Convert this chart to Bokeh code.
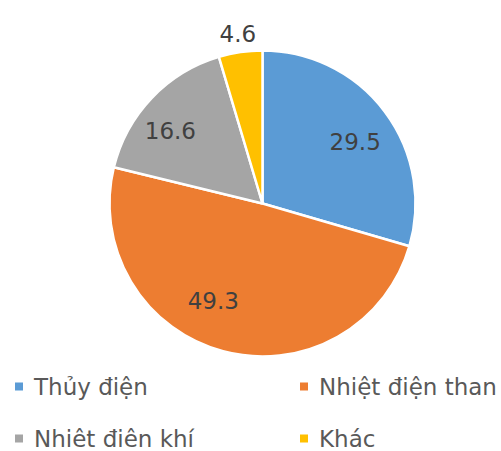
import numpy as np
from bokeh.plotting import figure
from bokeh.models import ColumnDataSource, Range1d
from bokeh.core.properties import value
from bokeh.embed import file_html
from bokeh.resources import INLINE

categories = ["Thủy điện", "Nhiệt điện than", "Nhiêt điên khí", "Khác"]
values = [29.5, 49.3, 16.6, 4.6]
labels = ["29.5", "49.3", "16.6", "4.6"]
colors = ["#5B9BD5", "#ED7D31", "#A5A5A5", "#FFC000"]

W, H = 501, 451
p = figure(width=W, height=H, output_backend="svg", toolbar_location=None,
           x_range=Range1d(0, W), y_range=Range1d(0, H), min_border=0)
p.axis.visible = False
p.grid.visible = False
p.outline_line_color = None
p.background_fill_color = "white"

cx, cy, r = 262, H - 203, 153
vals = np.array(values)
frac = vals / vals.sum()
cum = np.concatenate([[0], np.cumsum(frac)[:-1]])
start = np.pi / 2 - cum * 2 * np.pi
end = start - frac * 2 * np.pi
src = ColumnDataSource(dict(start=start, end=end, color=colors, name=categories))
p.wedge(x=cx, y=cy, radius=r, start_angle="start", end_angle="end", direction="clock",
        fill_color="color", line_color="white", line_width=2.5, source=src)

mid = (start + end) / 2
adj = np.deg2rad([-3, -12, 5, 0])
rf = np.array([0.73, 0.71, 0.77, 1.12])
lx = cx + rf * r * np.cos(mid + adj)
ly = cy + rf * r * np.sin(mid + adj)
p.text(x=lx, y=ly, text=labels, text_align="center", text_baseline="middle",
       text_font=value("DejaVu Sans"), text_font_size="23px", text_color="#404040")

# legend
col_x = [18.5, 303.5]
row_y = [H - 386, H - 438]
sq_x, sq_y, tx, ty = [], [], [], []
for i in range(len(categories)):
    c = i % 2
    rr = i // 2
    sq_x.append(col_x[c])
    sq_y.append(row_y[rr])
    tx.append(col_x[c] + 15)
    ty.append(row_y[rr])
p.rect(x=sq_x, y=sq_y, width=8, height=8, fill_color=colors, line_color=None)
p.text(x=tx, y=ty, text=categories, text_align="left", text_baseline="middle",
       text_font=value("DejaVu Sans"), text_font_size="23px", text_color="#595959")

open("out.html", "w").write(file_html(p, INLINE))
